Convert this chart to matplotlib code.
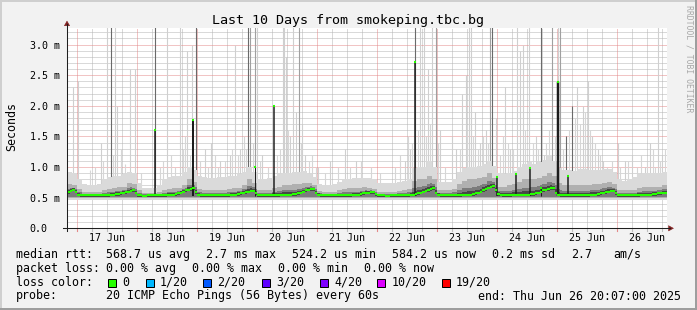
import numpy as np
import matplotlib
matplotlib.use("Agg")
import matplotlib.pyplot as plt
import matplotlib.transforms as mtransforms
from matplotlib.patches import Rectangle, Polygon
from datetime import datetime

W, H = 697, 310
START = datetime(2025, 6, 16, 20, 7)
SPAN_HOURS = 240
Y_MAX = 3.265

TITLE = "Last 10 Days from smokeping.tbc.bg"
Y_LABEL = "Seconds"
WATERMARK = "RRDTOOL / TOBI OETIKER"
y_ticks = [0.0, 0.5, 1.0, 1.5, 2.0, 2.5, 3.0]
y_tick_labels = ["0.0", "0.5 m", "1.0 m", "1.5 m", "2.0 m", "2.5 m", "3.0 m"]
day_labels = ["17 Jun", "18 Jun", "19 Jun", "20 Jun", "21 Jun",
              "22 Jun", "23 Jun", "24 Jun", "25 Jun", "26 Jun"]

# hourly median rtt (ms), one row per day starting 20:07
median_d0 = [0.59,0.61,0.63,0.60,0.55,0.54,0.54,0.54,0.54,0.54,0.54,0.54,0.54,0.54,0.54,0.54,0.54,0.55,0.55,0.56,0.56,0.57,0.58,0.59]
median_d1 = [0.60,0.61,0.62,0.58,0.54,0.54,0.53,0.53,0.54,0.54,0.54,0.54,0.54,0.54,0.54,0.54,0.55,0.55,0.55,0.56,0.57,0.58,0.60,0.62]
median_d2 = [0.63,0.64,0.65,0.59,0.55,0.54,0.54,0.54,0.54,0.54,0.54,0.54,0.54,0.54,0.54,0.54,0.54,0.55,0.55,0.55,0.56,0.57,0.58,0.59]
median_d3 = [0.60,0.61,0.61,0.57,0.54,0.54,0.54,0.54,0.54,0.54,0.54,0.54,0.54,0.55,0.55,0.55,0.55,0.55,0.56,0.56,0.57,0.58,0.60,0.62]
median_d4 = [0.63,0.64,0.64,0.58,0.55,0.54,0.54,0.54,0.54,0.54,0.54,0.54,0.54,0.54,0.54,0.54,0.54,0.54,0.55,0.55,0.55,0.56,0.57,0.58]
median_d5 = [0.58,0.59,0.59,0.56,0.54,0.54,0.54,0.53,0.53,0.54,0.54,0.54,0.54,0.54,0.54,0.54,0.54,0.55,0.55,0.56,0.57,0.58,0.60,0.61]
median_d6 = [0.62,0.64,0.65,0.58,0.55,0.54,0.54,0.54,0.54,0.54,0.54,0.54,0.54,0.54,0.55,0.55,0.55,0.55,0.56,0.57,0.58,0.60,0.62,0.64]
median_d7 = [0.66,0.68,0.69,0.62,0.56,0.55,0.54,0.54,0.54,0.54,0.55,0.55,0.55,0.55,0.55,0.55,0.55,0.56,0.56,0.57,0.58,0.60,0.62,0.63]
median_d8 = [0.64,0.65,0.65,0.58,0.55,0.54,0.54,0.54,0.54,0.54,0.54,0.54,0.54,0.54,0.54,0.54,0.54,0.55,0.55,0.55,0.56,0.57,0.58,0.59]
median_d9 = [0.60,0.61,0.61,0.57,0.54,0.54,0.54,0.54,0.54,0.54,0.54,0.54,0.54,0.55,0.55,0.55,0.55,0.55,0.56,0.56,0.57,0.57,0.58,0.58]

# smoke envelope per 2 hours (ms): upper edge of dense smoke / of light smoke
smoke_dark = [
    0.72,0.70,0.64,0.60,0.60,0.59,0.60,0.62,0.64,0.66,0.67,0.68,
    0.74,0.72,0.62,0.58,0.58,0.58,0.59,0.62,0.64,0.65,0.66,0.70,
    0.80,0.76,0.64,0.62,0.62,0.62,0.62,0.63,0.64,0.65,0.66,0.70,
    0.80,0.74,0.62,0.62,0.62,0.66,0.68,0.70,0.70,0.72,0.72,0.74,
    0.74,0.70,0.61,0.60,0.60,0.60,0.62,0.64,0.65,0.66,0.66,0.67,
    0.66,0.64,0.60,0.60,0.60,0.60,0.61,0.62,0.64,0.78,0.80,0.80,
    0.86,0.80,0.62,0.62,0.62,0.64,0.72,0.78,0.80,0.80,0.82,0.84,
    0.90,0.82,0.68,0.68,0.70,0.72,0.76,0.80,0.80,0.80,0.82,0.85,
    0.90,0.86,0.74,0.70,0.70,0.70,0.70,0.70,0.71,0.72,0.72,0.74,
    0.76,0.72,0.63,0.62,0.62,0.63,0.66,0.68,0.68,0.68,0.68,0.70]
smoke_top = [
    0.92,0.90,0.80,0.72,0.70,0.70,0.72,0.80,0.84,0.85,0.86,0.88,
    0.92,0.90,0.74,0.66,0.66,0.66,0.70,0.80,0.84,0.86,0.86,0.92,
    1.00,0.95,0.86,0.84,0.82,0.82,0.84,0.84,0.85,0.86,0.88,0.92,
    1.00,0.92,0.80,0.80,0.82,0.86,0.88,0.90,0.90,0.92,0.92,0.94,
    0.88,0.84,0.72,0.70,0.70,0.72,0.76,0.80,0.80,0.82,0.82,0.82,
    0.82,0.80,0.74,0.74,0.74,0.74,0.76,0.78,0.80,0.98,1.00,1.00,
    1.10,1.00,0.76,0.75,0.76,0.80,0.92,0.98,1.00,1.00,1.02,1.05,
    1.10,1.02,0.90,0.88,0.90,0.94,1.00,1.05,1.08,1.05,1.08,1.12,
    1.20,1.10,0.98,0.95,0.95,0.94,0.96,0.96,0.95,0.95,0.95,0.96,
    0.96,0.92,0.80,0.78,0.80,0.84,0.88,0.90,0.90,0.90,0.90,0.92]
SMOKE_FLOOR = 0.47

# isolated outlier pings (hours since start, top in ms, shade l/m/d)
hair_hours = [2.4, 4.4, 13.6, 16.0, 17.6, 19.2, 20.0, 25.2, 27.2, 35.2,
              40.0, 45.2, 48.0, 50.0, 51.6, 55.2, 57.6, 61.2, 65.2, 67.2,
              69.2, 72.4, 73.2, 75.2, 76.0, 78.0, 86.4, 86.8, 87.6, 89.2,
              90.4, 91.6, 92.8, 94.0, 95.2, 100.4, 105.2, 111.2, 115.6, 135.2,
              137.2, 139.2, 141.2, 142.8, 144.4, 146.0, 147.6, 149.2, 154.0, 155.6,
              158.0, 159.6, 160.8, 161.6, 163.2, 165.2, 167.6, 169.2, 170.0, 171.6,
              175.2, 177.2, 180.0, 181.2, 182.4, 184.8, 187.6, 189.6, 190.8, 194.0,
              196.4, 197.2, 199.6, 202.0, 204.0, 206.4, 208.4, 210.0, 212.4, 214.4,
              220.4, 223.2, 226.0, 231.2, 233.2, 236.4, 238.0]
hair_tops = [2.3, 2.4, 1.4, 3.3, 3.3, 3.3, 2.0, 2.6, 2.6, 3.3,
             3.3, 3.3, 2.9, 3.0, 3.3, 1.3, 1.4, 1.1, 1.2, 3.0,
             1.3, 3.3, 3.3, 3.3, 3.3, 1.2, 3.3, 3.3, 2.8, 1.5,
             3.3, 1.9, 3.3, 1.7, 1.2, 1.0, 1.1, 1.3, 1.1, 1.1,
             1.3, 3.3, 3.3, 3.3, 2.6, 3.3, 3.3, 1.6, 1.5, 1.3,
             2.2, 2.5, 3.3, 3.3, 1.9, 1.4, 1.6, 3.3, 3.3, 1.8,
             2.3, 1.3, 3.3, 2.9, 3.0, 3.3, 1.5, 3.3, 1.2, 3.3,
             3.3, 3.3, 1.5, 2.0, 2.3, 2.0, 2.4, 1.5, 1.3, 1.1,
             1.4, 1.1, 1.2, 1.0, 1.4, 3.3, 1.2]
hair_shade = ("lllldlllld" "lllldlllll" "ldmmllllll" "llmllllllll"
              "dllllmlllll" "lllllmdlll" "llllldlmlm" "ddllllllll"
              "llllllml")

# short fuzz of single high pings above the smoke (hours since start, top ms)
fuzz_hours = [9.0, 11.2, 14.4, 18.4, 21.6, 23.2, 29.6, 37.2, 38.4, 41.6,
              43.2, 46.4, 47.2, 49.2, 53.2, 56.4, 59.2, 60.4, 63.2, 66.0,
              68.4, 70.8, 71.6, 74.4, 77.2, 80.4, 84.0, 85.2, 88.4, 93.6,
              96.8, 98.0, 99.6, 103.2, 108.4, 113.2, 117.6, 121.6, 125.2, 131.2,
              133.2, 136.4, 138.0, 140.4, 143.6, 145.2, 148.4, 151.2, 157.2, 160.0,
              162.4, 164.4, 166.4, 168.4, 173.2, 174.4, 176.4, 178.4, 183.2, 186.4,
              188.4, 191.6, 192.8, 195.2, 198.4, 200.8, 203.2, 205.2, 207.2, 209.2,
              211.2, 213.2, 216.0, 218.0, 221.2, 224.4, 228.0, 229.6, 232.0, 234.4,
              235.2, 237.2, 239.2]
fuzz_tops = [0.95, 1.0, 1.1, 1.2, 1.3, 1.05, 0.9, 1.0, 1.1, 1.2,
             1.0, 1.3, 1.5, 1.2, 1.1, 1.0, 1.2, 1.0, 1.1, 1.3,
             1.2, 1.5, 1.3, 1.4, 1.1, 1.0, 1.2, 1.3, 1.6, 1.4,
             1.1, 1.2, 1.0, 0.9, 1.0, 1.0, 1.1, 1.0, 0.9, 1.0,
             1.2, 1.5, 1.4, 1.6, 1.5, 1.7, 1.4, 1.0, 1.3, 1.6,
             1.5, 1.3, 1.5, 1.4, 1.2, 1.5, 1.4, 1.3, 1.6, 1.4,
             1.3, 1.4, 1.6, 1.5, 1.3, 1.6, 1.8, 1.7, 1.9, 1.6,
             1.4, 1.2, 1.0, 1.1, 1.0, 1.1, 1.0, 1.2, 1.1, 1.3,
             1.0, 1.1, 1.3]

# intervals where the median itself jumped (hours since start, ms)
median_spike_hours = [35.2, 50.4, 75.2, 82.8, 139.2, 172.0, 179.6, 185.2, 189.6, 196.4, 200.4]
median_spike_values = [1.60, 1.76, 1.00, 2.00, 2.72, 0.83, 0.89, 0.98, 0.65, 2.39, 0.85]
median_spike_px = [1.5, 2.0, 1.0, 1.5, 1.5, 1.5, 1.5, 1.5, 1.0, 2.5, 1.5]

loss_labels = ["0", "1/20", "2/20", "3/20", "4/20", "10/20", "19/20"]
loss_colors = ["#26ff00", "#00b8ff", "#0059ff", "#5e00ff", "#7e00ff", "#dd00ff", "#ff0000"]
rtt_items = ["568.7 us avg", "2.7 ms max", "524.2 us min", "584.2 us now",
             "0.2 ms sd", "2.7", "am/s"]
loss_items = ["0.00 % avg", "0.00 % max", "0.00 % min", "0.00 % now"]
PROBE_TEXT = "20 ICMP Echo Pings (56 Bytes) every 60s"
END_TEXT = "end: Thu Jun 26 20:07:00 2025"

# ---------------------------------------------------------------- drawing
MONO = "DejaVu Sans Mono"
BACK, CANVAS = "#f2f2f2", "#ffffff"
fig = plt.figure(figsize=(W / 100, H / 100), dpi=100, facecolor=BACK)
PX = mtransforms.Affine2D().scale(1 / W, -1 / H).translate(0, 1) + fig.transFigure

ax = fig.add_axes([67 / W, 1 - 228.3 / H, 600 / W, 200 / H])
ax.set_facecolor(CANVAS)
ax.set_xlim(0, SPAN_HOURS)
ax.set_ylim(0, Y_MAX)
for s in ax.spines.values():
    s.set_visible(False)
ax.set_xticks([])
ax.set_yticks([])

# grid
first_midnight = (datetime(2025, 6, 17) - START).total_seconds() / 3600
minor_x = [t for t in np.arange(first_midnight - 24, SPAN_HOURS, 6) if 0 < t < SPAN_HOURS]
major_x = [t for t in minor_x if abs(((t - first_midnight) / 24) - round((t - first_midnight) / 24)) < 1e-6]
minor_y = [v / 10 for v in range(1, 33) if v % 5 != 0]
major_y = [v for v in y_ticks if v > 0]
dot = (0, (1, 1))
GRID_C, MGRID_C = "#b4b4b4", "#e48a8a"
for t in minor_x:
    if t not in major_x:
        ax.axvline(t, color=GRID_C, lw=0.72, ls=dot, zorder=0.5)
for v in minor_y:
    ax.axhline(v, color=GRID_C, lw=0.72, ls=dot, zorder=0.5)
for t in major_x:
    ax.axvline(t, color=MGRID_C, lw=0.72, ls=dot, zorder=0.6)
for v in major_y:
    ax.axhline(v, color=MGRID_C, lw=0.72, ls=dot, zorder=0.6)

# hair spikes (outliers) and fuzz
shade_col = {"l": "#cfcfcf", "m": "#a0a0a0", "d": "#6a6a6a"}
ax.vlines(fuzz_hours, 0.6, fuzz_tops, colors="#d6d6d6", lw=0.8, zorder=1)
for h, top, sh in zip(hair_hours, hair_tops, hair_shade):
    ax.vlines(h, 0.55, top, colors=shade_col[sh], lw=0.8, zorder=1.1)

# smoke
hours = np.arange(SPAN_HOURS + 1)
med = np.array(median_d0 + median_d1 + median_d2 + median_d3 + median_d4 +
               median_d5 + median_d6 + median_d7 + median_d8 + median_d9)
dark = np.repeat(smoke_dark, 2)
top = np.repeat(smoke_top, 2)
ext = lambda a: np.append(a, a[-1])
layers = [
    (np.full(SPAN_HOURS, SMOKE_FLOOR), top, "#dadada"),
    (np.full(SPAN_HOURS, SMOKE_FLOOR + 0.02), dark, "#b0b0b0"),
    (np.full(SPAN_HOURS, SMOKE_FLOOR + 0.035), med + 0.45 * (dark - med), "#7c7c7c"),
    (med - 0.025, med + 0.18 * (dark - med) + 0.008, "#464646"),
]
for i, (lo, hi, c) in enumerate(layers):
    ax.fill_between(hours, ext(lo), ext(hi), step="post", color=c, lw=0, zorder=2 + i * 0.1)

# median spikes
for h, v, wpx in zip(median_spike_hours, median_spike_values, median_spike_px):
    ax.vlines(h, 0.52, v, colors="#1c1c1c", lw=wpx * 0.72, zorder=3)

# median line (loss colour 0)
ax.hlines(med, hours[:-1], hours[1:], colors=loss_colors[0], lw=1.5, zorder=4)
for h, v, wpx in zip(median_spike_hours, median_spike_values, median_spike_px):
    ax.hlines(v, h - 0.4, h + 0.4, colors=loss_colors[0], lw=1.5, zorder=4)

# x ticks below axis
bt = mtransforms.blended_transform_factory(ax.transData, ax.transAxes)
for t in minor_x:
    c = MGRID_C if t in major_x else "#bdbdbd"
    ax.plot([t, t], [-0.012, 0], color=c, lw=0.8, transform=bt, clip_on=False, zorder=5)

# axes lines and arrows
AXIS_C, ARROW_C = "#1f1f1f", "#801f1f"
fig.add_artist(plt.Line2D([67, 67], [230.5, 24], color=AXIS_C, lw=0.75, transform=PX))
fig.add_artist(plt.Line2D([62.5, 670], [228.3, 228.3], color=AXIS_C, lw=0.75, transform=PX))
fig.add_artist(Polygon([[64.3, 25.8], [69.7, 25.8], [67, 21]], closed=True,
                       facecolor=ARROW_C, edgecolor=ARROW_C, lw=0.3, transform=PX))
fig.add_artist(Polygon([[668.5, 225.6], [668.5, 231.0], [673.5, 228.3]], closed=True,
                       facecolor=ARROW_C, edgecolor=ARROW_C, lw=0.3, transform=PX))

# tick labels
ytr = mtransforms.blended_transform_factory(fig.transFigure, ax.transData) + \
    mtransforms.ScaledTranslation(0, -4.0 / 100, fig.dpi_scale_trans)
for v, lab in zip(y_ticks, y_tick_labels):
    ax.text(29.5 / W, v, lab, transform=ytr, ha="left", va="baseline",
            fontsize=7.2, family=MONO, color="black")
xtr = mtransforms.blended_transform_factory(ax.transData, fig.transFigure)
for k, lab in enumerate(day_labels):
    ax.text(first_midnight + 12 + 24 * k, 1 - 241 / H, lab, transform=xtr,
            ha="center", va="baseline", fontsize=7.2, family=MONO, color="black")

# title, axis label, watermark
fig.text(348.5, 24, TITLE, transform=PX, ha="center", va="baseline", fontsize=9.6, family=MONO)
fig.text(12, 126.5, Y_LABEL, transform=PX, ha="center", va="center", rotation=90,
         fontsize=8.4, family=MONO)
fig.text(688.5, 5, WATERMARK, transform=PX, ha="center", va="top", rotation=-90,
         fontsize=5.9, family=MONO, color="#a8a8a8")

# legend
LF = 8.4
rows = [257.8, 271.7, 285.6, 299.5]
fig.text(16, rows[0], "median rtt:", transform=PX, va="baseline", fontsize=LF, family=MONO)
for x, s in zip([106.5, 206.5, 292.5, 392.5, 492.5, 571.5, 613.5], rtt_items):
    fig.text(x, rows[0], s, transform=PX, va="baseline", fontsize=LF, family=MONO)
fig.text(16, rows[1], "packet loss:", transform=PX, va="baseline", fontsize=LF, family=MONO)
for x, s in zip([106.5, 192.5, 278.5, 364.5], loss_items):
    fig.text(x, rows[1], s, transform=PX, va="baseline", fontsize=LF, family=MONO)
fig.text(16, rows[2], "loss color:", transform=PX, va="baseline", fontsize=LF, family=MONO)
for x, lab, c in zip([108, 145.5, 203, 261.5, 319.5, 377, 441.5], loss_labels, loss_colors):
    fig.add_artist(Rectangle((x, 278.5), 8, 8, facecolor=c, edgecolor="black",
                             lw=0.72, transform=PX))
    fig.text(x + 14.5, rows[2], lab, transform=PX, va="baseline", fontsize=LF, family=MONO)
fig.text(16, rows[3], "probe:", transform=PX, va="baseline", fontsize=LF, family=MONO)
fig.text(106.5, rows[3], PROBE_TEXT, transform=PX, va="baseline", fontsize=LF, family=MONO)
fig.text(681, rows[3], END_TEXT, transform=PX, ha="right", va="baseline", fontsize=LF, family=MONO)

# 3D frame
for (x, y, w, h, c) in [(0, 0, W, 2, "#cfcfcf"), (0, 0, 2, H, "#cfcfcf"),
                        (0, H - 2, W, 2, "#9e9e9e"), (W - 2, 0, 2, H, "#9e9e9e")]:
    fig.add_artist(Rectangle((x, y), w, h, facecolor=c, edgecolor="none", transform=PX))

fig.savefig("out.png", dpi=100, facecolor=BACK)
